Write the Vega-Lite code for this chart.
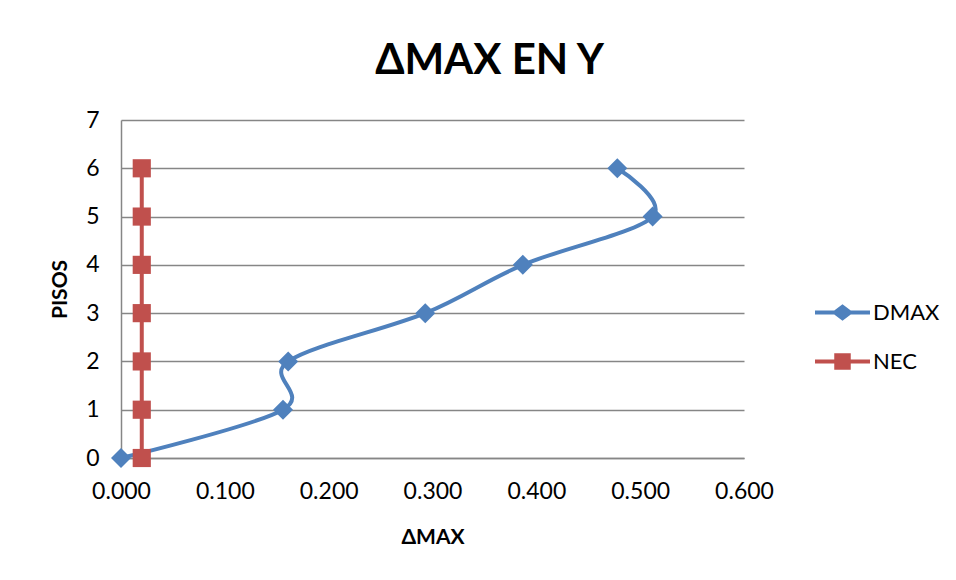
{
  "$schema": "https://vega.github.io/schema/vega-lite/v6.json",
  "width": 623,
  "height": 338,
  "autosize": {"type": "none"},
  "padding": {"left": 121, "top": 120, "right": 212, "bottom": 122},
  "background": "white",
  "config": {
    "font": "Lato",
    "view": {"stroke": null}
  },
  "title": {
    "text": "ΔMAX EN Y",
    "font": "Lato",
    "fontSize": 42,
    "fontWeight": "bold",
    "color": "#000000",
    "anchor": "middle",
    "dx": 57,
    "offset": 26
  },
  "data": {
    "values": [
      {"serie": "DMAX", "delta": 0.000, "pisos": 0},
      {"serie": "DMAX", "delta": 0.156, "pisos": 1},
      {"serie": "DMAX", "delta": 0.161, "pisos": 2},
      {"serie": "DMAX", "delta": 0.293, "pisos": 3},
      {"serie": "DMAX", "delta": 0.387, "pisos": 4},
      {"serie": "DMAX", "delta": 0.512, "pisos": 5},
      {"serie": "DMAX", "delta": 0.478, "pisos": 6},
      {"serie": "NEC", "delta": 0.020, "pisos": 0},
      {"serie": "NEC", "delta": 0.020, "pisos": 1},
      {"serie": "NEC", "delta": 0.020, "pisos": 2},
      {"serie": "NEC", "delta": 0.020, "pisos": 3},
      {"serie": "NEC", "delta": 0.020, "pisos": 4},
      {"serie": "NEC", "delta": 0.020, "pisos": 5},
      {"serie": "NEC", "delta": 0.020, "pisos": 6}
    ]
  },
  "encoding": {
    "x": {
      "field": "delta",
      "type": "quantitative",
      "scale": {"domain": [0, 0.6], "nice": false, "zero": false},
      "axis": {
        "title": "ΔMAX",
        "titleFont": "Lato",
        "titleFontSize": 21,
        "titleFontWeight": "bold",
        "titleColor": "#000000",
        "titlePadding": 23,
        "values": [0, 0.1, 0.2, 0.3, 0.4, 0.5, 0.6],
        "format": ".3f",
        "labelFont": "Lato",
        "labelFontSize": 23,
        "labelColor": "#000000",
        "labelPadding": 22,
        "labelFlush": false,
        "ticks": false,
        "grid": false,
        "domainColor": "#868686",
        "domainWidth": 1.5
      }
    },
    "y": {
      "field": "pisos",
      "type": "quantitative",
      "scale": {"domain": [0, 7], "nice": false},
      "axis": {
        "title": "PISOS",
        "titleFont": "Lato",
        "titleFontSize": 21,
        "titleFontWeight": "bold",
        "titleColor": "#000000",
        "titlePadding": 15,
        "values": [0, 1, 2, 3, 4, 5, 6, 7],
        "labelFont": "Lato",
        "labelFontSize": 23,
        "labelColor": "#000000",
        "labelPadding": 22,
        "labelFlush": false,
        "ticks": false,
        "grid": true,
        "gridColor": "#868686",
        "gridWidth": 1.5,
        "domainColor": "#868686",
        "domainWidth": 1.5
      }
    },
    "color": {
      "field": "serie",
      "type": "nominal",
      "scale": {"domain": ["DMAX", "NEC"], "range": ["#4F81BD", "#C0504D"]},
      "legend": {
        "title": null,
        "orient": "none",
        "legendX": 694,
        "legendY": 165,
        "labelFont": "Lato",
        "labelFontSize": 22,
        "labelColor": "#000000",
        "labelOffset": 3,
        "rowPadding": 10,
        "symbolSize": 3025,
        "symbolStrokeWidth": 0,
        "symbolOpacity": 1
      }
    },
    "order": {"field": "pisos", "type": "quantitative"}
  },
  "layer": [
    {
      "transform": [{"filter": "false"}],
      "mark": {"type": "point", "filled": true, "opacity": 1},
      "encoding": {
        "shape": {
          "field": "serie",
          "type": "nominal",
          "scale": {
            "domain": ["DMAX", "NEC"],
            "range": [
              "M-1,-0.075H-0.3L0,-0.3L0.3,-0.075H1V0.075H0.3L0,0.3L-0.3,0.075H-1Z",
              "M-1,-0.075H-0.3V-0.3H0.3V-0.075H1V0.075H0.3V0.3H-0.3V0.075H-1Z"
            ]
          },
          "legend": {
            "title": null,
            "orient": "none",
            "legendX": 694,
            "legendY": 165,
            "labelFont": "Lato",
            "labelFontSize": 22,
            "labelColor": "#000000",
            "labelOffset": 3,
            "rowPadding": 10,
            "symbolSize": 3025,
            "symbolStrokeWidth": 0,
            "symbolOpacity": 1
          }
        }
      }
    },
    {
      "mark": {"type": "line", "interpolate": "cardinal", "tension": 0, "strokeWidth": 4}
    },
    {
      "transform": [{"filter": "datum.serie === 'DMAX'"}],
      "mark": {"type": "point", "shape": "diamond", "filled": true, "opacity": 1, "size": 400}
    },
    {
      "transform": [{"filter": "datum.serie === 'NEC'"}],
      "mark": {"type": "point", "shape": "square", "filled": true, "opacity": 1, "size": 330}
    }
  ]
}
